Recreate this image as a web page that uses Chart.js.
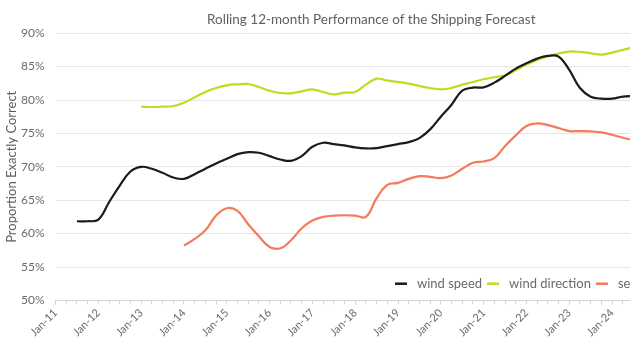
<!DOCTYPE html>
<html>
<head>
<meta charset="utf-8">
<script src="https://cdn.jsdelivr.net/npm/chart.js@4.4.0/dist/chart.umd.min.js"></script>
<style>
  html, body { margin: 0; padding: 0; background: #fff; overflow: hidden; }
  #wrap { width: 700px; height: 354px; }
</style>
</head>
<body>
<div id="wrap"><canvas id="chart-forecast" width="700" height="354"></canvas></div>
<script>
// quarterly categories, Jan-11 .. Oct-25 (chart runs past the right edge of the window)
const YEARS = ['11','12','13','14','15','16','17','18','19','20','21','22','23','24','25'];
const QUARTER_MONTHS = ['Jan', 'Apr', 'Jul', 'Oct'];
const LABELS = YEARS.flatMap(y => QUARTER_MONTHS.map(m => m + '-' + y));

// labelled ticks on the x axis
const YEAR_LABELS = ['Jan-11','Jan-12','Jan-13','Jan-14','Jan-15','Jan-16','Jan-17',
                     'Jan-18','Jan-19','Jan-20','Jan-21','Jan-22','Jan-23','Jan-24'];

// % exactly correct, rolling 12 months (null = no data yet)
const WIND_SPEED = [null, null,
  61.85, 61.85, 62.1, 64.7, 67.2, 69.3, 70.0, 69.7, 69.1, 68.4, 68.2, 68.9, 69.7,
  70.5, 71.2, 71.9, 72.2, 72.1, 71.6, 71.1, 70.9, 71.6, 73.0, 73.6, 73.4, 73.2,
  72.9, 72.75, 72.8, 73.1, 73.4, 73.7, 74.3, 75.6, 77.5, 79.3, 81.4, 81.85, 81.9,
  82.6, 83.6, 84.7, 85.5, 86.2, 86.6, 86.5, 84.5, 81.8, 80.5, 80.2, 80.2, 80.5, 80.6];

const WIND_DIRECTION = [null, null, null, null, null, null, null, null,
  79.0, 78.95, 79.0, 79.1, 79.6, 80.4, 81.2, 81.8, 82.2, 82.35, 82.4, 81.95, 81.4,
  81.05, 81.0, 81.3, 81.6, 81.2, 80.85, 81.1, 81.2, 82.3, 83.2, 82.9, 82.7, 82.45,
  82.1, 81.8, 81.6, 81.8, 82.3, 82.7, 83.1, 83.4, 83.7, 84.45, 85.3, 86.0, 86.55,
  86.95, 87.25, 87.2, 87.0, 86.8, 87.1, 87.5, 87.9];

const SEA_STATE = [null, null, null, null, null, null, null, null, null, null, null, null,
  58.2, 59.2, 60.5, 62.7, 63.8, 63.4, 61.4, 59.6, 58.0, 57.8, 59.0, 60.8, 61.95,
  62.5, 62.7, 62.75, 62.7, 62.5, 65.3, 67.3, 67.6, 68.2, 68.6, 68.5, 68.3, 68.7,
  69.7, 70.6, 70.8, 71.3, 73.1, 74.7, 76.1, 76.5, 76.25, 75.8, 75.35, 75.35, 75.3,
  75.15, 74.8, 74.35, 74.0];

const SERIES_NAMES = ['wind speed', 'wind direction', 'sea state'];
const SERIES_COLORS = ['#1b1b1b', '#b6e11f', '#f47a5b'];

Chart.defaults.font.family = "Lato, 'Open Sans', sans-serif";
Chart.defaults.color = '#6a6a6a';

// legend sits inside the plot area, near the bottom
const insideLegend = {
  id: 'insideLegend',
  afterDraw(chart) {
    const { ctx: c, chartArea, scales: { y } } = chart;
    const yPos = y.getPixelForValue(52.5);
    let x = chartArea.right - 292;
    c.save();
    c.font = '13px Lato, sans-serif';
    c.textBaseline = 'middle';
    chart.data.datasets.forEach(ds => {
      c.strokeStyle = ds.borderColor;
      c.lineWidth = 2.5;
      c.beginPath();
      c.moveTo(x, yPos);
      c.lineTo(x + 12, yPos);
      c.stroke();
      x += 22;
      c.fillStyle = '#6a6a6a';
      c.fillText(ds.label, x, yPos);
      x += c.measureText(ds.label).width + 5;
    });
    c.restore();
  }
};

const seriesData = [WIND_SPEED, WIND_DIRECTION, SEA_STATE];

new Chart(document.getElementById('chart-forecast'), {
  type: 'line',
  data: {
    labels: LABELS,
    datasets: seriesData.map((d, i) => ({
      label: SERIES_NAMES[i],
      data: d,
      borderColor: SERIES_COLORS[i],
      backgroundColor: SERIES_COLORS[i],
      borderWidth: 2.2,
      pointRadius: 0,
      tension: 0.4,
      fill: false,
      spanGaps: false
    }))
  },
  plugins: [insideLegend],
  options: {
    responsive: false,
    animation: false,
    layout: { padding: { left: 2, right: 13, top: 2, bottom: 13 } },
    plugins: {
      legend: { display: false },
      tooltip: { enabled: false },
      title: {
        display: true,
        fullSize: false,
        text: 'Rolling 12-month Performance of the Shipping Forecast',
        color: '#5f5f5f',
        font: { size: 13.5, weight: 'normal' },
        padding: { top: 10, bottom: 5 }
      }
    },
    scales: {
      x: {
        type: 'category',
        offset: false,
        grid: { drawOnChartArea: false, drawTicks: true, tickLength: 4, color: '#d4d4d4' },
        border: { color: '#d4d4d4' },
        ticks: {
          autoSkip: false,
          minRotation: 45,
          maxRotation: 45,
          padding: 2,
          color: '#6a6a6a',
          font: { size: 11 },
          callback: (v, i) => YEAR_LABELS.includes(LABELS[i]) ? LABELS[i] : ''
        }
      },
      y: {
        min: 50,
        max: 90,
        ticks: {
          stepSize: 5,
          padding: 11,
          color: '#6a6a6a',
          font: { size: 12 },
          callback: (v) => v + '%'
        },
        grid: { color: '#e6e6e6', drawTicks: false, tickLength: 0 },
        border: { display: false },
        title: {
          display: true,
          text: 'Proportion Exactly Correct',
          color: '#5f5f5f',
          font: { size: 13 },
          // tick padding is counted on both sides of the labels, pull the title back in
          padding: { top: 2, bottom: -9.6 }
        }
      }
    }
  }
});
</script>
</body>
</html>
